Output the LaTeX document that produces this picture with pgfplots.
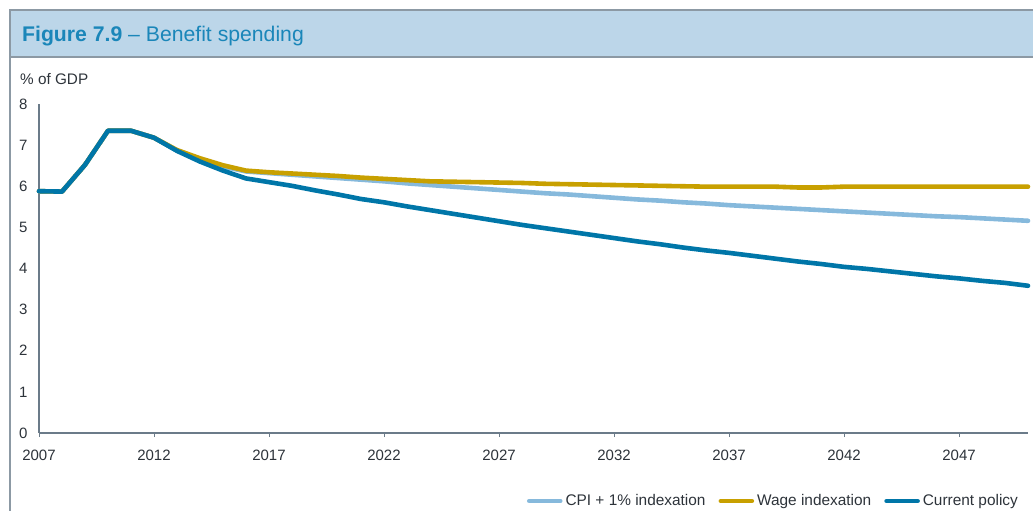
\documentclass[border=0pt]{standalone}
\usepackage{pgfplots}
\pgfplotsset{compat=1.18}
\usepackage{pgfplotstable}
\usepackage{fontspec}
\setmainfont{Liberation Sans}
\definecolor{framegray}{HTML}{8C99A4}
\definecolor{barfill}{HTML}{BCD6E9}
\definecolor{titleblue}{HTML}{1A86B9}
\definecolor{axisgray}{HTML}{6B7B89}
\definecolor{txt}{HTML}{2D333A}
\definecolor{curpol}{HTML}{0076A8}
\definecolor{cpi}{HTML}{86B9DC}
\definecolor{wage}{HTML}{C8A000}

\pgfplotstableread{
year cpi wage current
2007 5.88 5.88 5.88
2008 5.87 5.87 5.87
2009 6.52 6.52 6.52
2010 7.35 7.35 7.35
2011 7.35 7.35 7.35
2012 7.18 7.18 7.18
2013 6.87 6.88 6.86
2014 6.66 6.68 6.60
2015 6.48 6.51 6.38
2016 6.36 6.38 6.19
2017 6.32 6.34 6.10
2018 6.28 6.31 6.01
2019 6.24 6.28 5.90
2020 6.20 6.25 5.80
2021 6.16 6.21 5.69
2022 6.12 6.18 5.61
2023 6.07 6.15 5.51
2024 6.03 6.12 5.42
2025 5.99 6.11 5.33
2026 5.95 6.10 5.24
2027 5.91 6.09 5.15
2028 5.87 6.08 5.06
2029 5.83 6.06 4.98
2030 5.80 6.05 4.90
2031 5.76 6.04 4.82
2032 5.72 6.03 4.74
2033 5.68 6.02 4.66
2034 5.65 6.01 4.59
2035 5.61 6.00 4.51
2036 5.58 5.99 4.44
2037 5.54 5.99 4.38
2038 5.51 5.99 4.31
2039 5.48 5.99 4.24
2040 5.45 5.97 4.17
2041 5.42 5.97 4.11
2042 5.39 5.99 4.04
2043 5.36 5.99 3.99
2044 5.33 5.99 3.93
2045 5.30 5.99 3.87
2046 5.27 5.99 3.81
2047 5.25 5.99 3.76
2048 5.22 5.99 3.70
2049 5.19 5.99 3.65
2050 5.16 5.99 3.58
}\datatable

\begin{document}
\begin{tikzpicture}[x=1pt,y=1pt]
\useasboundingbox (0,0) rectangle (1033,511);
% frame and title bar
\fill[barfill] (10,454) rectangle (1033,501);
\draw[framegray, line width=1.2pt] (10,0) -- (10,501) -- (1033,501);
\draw[framegray, line width=1.2pt] (10,454) -- (1033,454);
\node[anchor=base west, inner sep=0pt, text=titleblue, font=\fontsize{21.2}{25}\selectfont] at (22,469) {\textbf{Figure 7.9} -- Benefit spending};
\node[anchor=west, inner sep=0pt, text=txt, font=\fontsize{15.3}{18}\selectfont] at (20,432) {\% of GDP};

\begin{axis}[
  at={(39pt,78pt)}, anchor=south west,
  scale only axis, width=989pt, height=329pt,
  xmin=2007, xmax=2050, ymin=0, ymax=8,
  axis x line=bottom, axis y line=left,
  axis line style={-, axisgray, line width=1.2pt},
  xtick={2007,2012,...,2047},
  ytick={0,1,...,8},
  /pgf/number format/1000 sep={},
  /pgf/number format/assume math mode=true,
  tick label style={font=\fontsize{15}{18}\selectfont, text=txt},
  x tick style={axisgray, line width=1pt},
  y tick style={draw=none},
  tick align=outside,
  major tick length=4pt,
  xticklabel style={yshift=-9pt},
  yticklabel style={xshift=-4pt},
  legend columns=3,
  legend style={at={(0.993,-0.2067)}, anchor=east, draw=none, fill=none,
    font=\fontsize{15.4}{18}\selectfont, text=txt,
    /tikz/every even column/.append style={column sep=10pt},
    inner sep=0pt, nodes={inner xsep=3pt, inner ysep=1pt}},
  legend image code/.code={\draw[#1] (0pt,0pt) -- (31pt,0pt);},
  every axis plot/.append style={line width=4.6pt, line cap=round, line join=round},
  clip=false,
]
\addplot[cpi] table[x=year, y=cpi] {\datatable};
\addlegendentry{CPI + 1\% indexation}
\addplot[wage] table[x=year, y=wage] {\datatable};
\addlegendentry{Wage indexation}
\addplot[curpol] table[x=year, y=current] {\datatable};
\addlegendentry{Current policy}
\end{axis}
\end{tikzpicture}
\end{document}
